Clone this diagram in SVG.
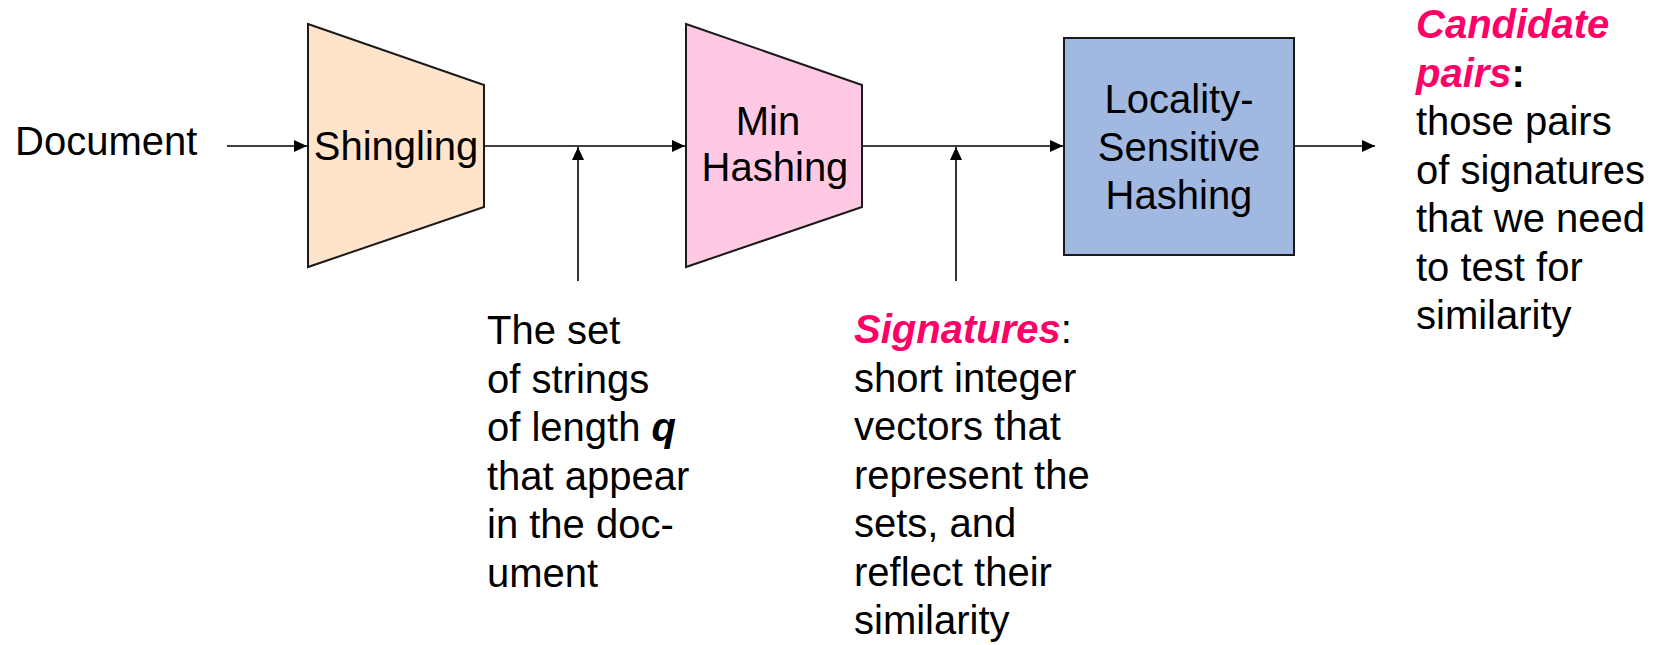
<svg xmlns="http://www.w3.org/2000/svg" width="1657" height="645" viewBox="0 0 1657 645">
  <style>
    text { font-family: "Liberation Sans", Arial, sans-serif; font-size: 40px; fill: #000; }
    .mid { text-anchor: middle; }
    .hl { fill: #FF0066; font-weight: bold; font-style: italic; }
    .bi { font-weight: bold; font-style: italic; }
    .shape { stroke: #1a1a1a; stroke-width: 2; }
    .wire { stroke: #000; stroke-width: 1.6; fill: none; }
  </style>
  <defs>
    <marker id="arrow" markerUnits="userSpaceOnUse" markerWidth="14" markerHeight="14" viewBox="0 0 14 14" refX="13" refY="7" orient="auto">
      <path d="M0,1 L13,7 L0,13 Z" fill="#000"/>
    </marker>
  </defs>

  <rect width="1657" height="645" fill="#fff"/>

  <!-- Pipeline stages -->
  <g id="document">
    <text x="15" y="155">Document</text>
  </g>

  <g id="shingling">
    <polygon class="shape" points="308,24 484,85 484,207 308,267" fill="#FFE4CB"/>
    <text class="mid" x="396" y="160">Shingling</text>
  </g>

  <g id="minhashing">
    <polygon class="shape" points="686,24 862,85 862,207 686,267" fill="#FFC9E4"/>
    <text class="mid" x="768" y="135">Min</text>
    <text class="mid" x="775" y="181">Hashing</text>
  </g>

  <g id="lsh">
    <rect class="shape" x="1064" y="38" width="230" height="217" fill="#A1B8E0"/>
    <text class="mid" x="1179" y="113">Locality-</text>
    <text class="mid" x="1179" y="161">Sensitive</text>
    <text class="mid" x="1179" y="209">Hashing</text>
  </g>

  <!-- Connectors -->
  <g id="connectors">
    <line class="wire" x1="227" y1="146" x2="307" y2="146" marker-end="url(#arrow)"/>
    <line class="wire" x1="484" y1="146" x2="685" y2="146" marker-end="url(#arrow)"/>
    <line class="wire" x1="862" y1="146" x2="1063" y2="146" marker-end="url(#arrow)"/>
    <line class="wire" x1="1294" y1="146" x2="1375" y2="146" marker-end="url(#arrow)"/>
    <line class="wire" x1="578" y1="281" x2="578" y2="147" marker-end="url(#arrow)"/>
    <line class="wire" x1="956" y1="281" x2="956" y2="147" marker-end="url(#arrow)"/>
  </g>

  <!-- Annotations -->
  <g id="shingles-note">
    <text x="487" y="344">The set</text>
    <text x="487" y="392.5">of strings</text>
    <text x="487" y="441">of length <tspan class="bi">q</tspan></text>
    <text x="487" y="489.5">that appear</text>
    <text x="487" y="538">in the doc-</text>
    <text x="487" y="586.5">ument</text>
  </g>

  <g id="signatures-note">
    <text x="854" y="343"><tspan class="hl">Signatures</tspan>:</text>
    <text x="854" y="391.5">short integer</text>
    <text x="854" y="440">vectors that</text>
    <text x="854" y="488.5">represent the</text>
    <text x="854" y="537">sets, and</text>
    <text x="854" y="585.5">reflect their</text>
    <text x="854" y="634">similarity</text>
  </g>

  <g id="candidates-note">
    <text class="hl" x="1416" y="38">Candidate</text>
    <text x="1416" y="86.5"><tspan class="hl">pairs</tspan><tspan font-weight="bold">:</tspan></text>
    <text x="1416" y="135">those pairs</text>
    <text x="1416" y="183.5">of signatures</text>
    <text x="1416" y="232">that we need</text>
    <text x="1416" y="280.5">to test for</text>
    <text x="1416" y="329">similarity</text>
  </g>
</svg>
